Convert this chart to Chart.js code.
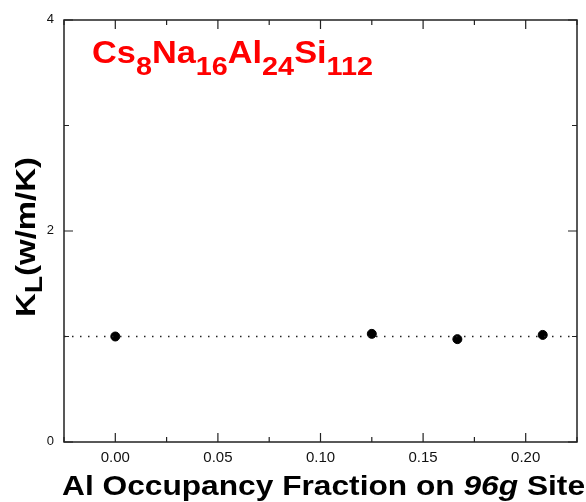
<!DOCTYPE html>
<html>
<head>
<meta charset="utf-8">
<script src="https://cdn.jsdelivr.net/npm/chart.js@4"></script>
<style>
  html, body { margin: 0; padding: 0; background: #fff; }
  #wrap { width: 586px; height: 502px; }
</style>
</head>
<body>
<div id="wrap"><canvas id="chart" width="586" height="502"></canvas></div>
<script>
// data
const occupancy = [0.0, 0.125, 0.1667, 0.2083];
const kappaL = [1.0, 1.025, 0.975, 1.015];
const refLevel = 1.0;
const xTicks = [0.0, 0.05, 0.1, 0.15, 0.2];
const xMinor = [-0.025, 0.025, 0.075, 0.125, 0.175, 0.225];
const yTicks = [0, 2, 4];
const yMinor = [1, 3];

const FONT = "'Liberation Sans', Arial, sans-serif";

// draw runs of text [font, text, dy], squeezed/stretched to a given width
function drawRuns(ctx, runs, x, y, width) {
  let total = 0;
  runs.forEach(([f, t]) => { ctx.font = f; total += ctx.measureText(t).width; });
  const sx = width / total;
  ctx.save();
  ctx.translate(x, y);
  ctx.scale(sx, 1);
  let cx = 0;
  runs.forEach(([f, t, dy]) => {
    ctx.font = f;
    ctx.fillText(t, cx, dy || 0);
    cx += ctx.measureText(t).width;
  });
  ctx.restore();
}

// frame, inward ticks and text labels drawn on top of the chart
const decorPlugin = {
  id: "decor",
  afterDraw(chart) {
    const { ctx, chartArea: a, scales } = chart;
    const xs = scales.x, ys = scales.y;
    ctx.save();
    ctx.strokeStyle = "#222";
    ctx.lineWidth = 1.5;
    ctx.strokeRect(a.left, a.top, a.right - a.left, a.bottom - a.top);

    ctx.lineWidth = 1.2;
    ctx.beginPath();
    const tickX = (v, len) => {
      const px = xs.getPixelForValue(v);
      ctx.moveTo(px, a.bottom); ctx.lineTo(px, a.bottom - len);
      ctx.moveTo(px, a.top); ctx.lineTo(px, a.top + len);
    };
    const tickY = (v, len) => {
      const py = ys.getPixelForValue(v);
      ctx.moveTo(a.left, py); ctx.lineTo(a.left + len, py);
      ctx.moveTo(a.right, py); ctx.lineTo(a.right - len, py);
    };
    xTicks.forEach((v) => tickX(v, 9));
    xMinor.forEach((v) => tickX(v, 5));
    yTicks.forEach((v) => tickY(v, 9));
    yMinor.forEach((v) => tickY(v, 5));
    ctx.stroke();

    // tick labels
    ctx.fillStyle = "#111";
    ctx.font = "15px " + FONT;
    ctx.textAlign = "center";
    ctx.textBaseline = "middle";
    xTicks.forEach((v) => ctx.fillText(v.toFixed(2), xs.getPixelForValue(v), a.bottom + 16));
    ctx.font = "13px " + FONT;
    ctx.textAlign = "right";
    yTicks.forEach((v) => ctx.fillText(String(v), a.left - 10, ys.getPixelForValue(v) - 1));

    ctx.textBaseline = "alphabetic";
    ctx.textAlign = "left";

    // x axis title
    ctx.fillStyle = "#000";
    drawRuns(ctx, [
      ["bold 28px " + FONT, "Al Occupancy Fraction on "],
      ["italic bold 28px " + FONT, "96g"],
      ["bold 28px " + FONT, " Site"],
    ], 62, 495, 523);

    // y axis title, rotated
    ctx.save();
    ctx.translate(35, 317);
    ctx.rotate(-Math.PI / 2);
    drawRuns(ctx, [
      ["bold 28px " + FONT, "K", 0],
      ["bold 24px " + FONT, "L", 7],
      ["bold 28px " + FONT, "(w/m/K)", 0],
    ], 0, 0, 160);
    ctx.restore();

    // red formula label
    ctx.fillStyle = "#ff0000";
    drawRuns(ctx, [
      ["bold 31px " + FONT, "Cs", 0],
      ["bold 26px " + FONT, "8", 12],
      ["bold 31px " + FONT, "Na", 0],
      ["bold 26px " + FONT, "16", 12],
      ["bold 31px " + FONT, "Al", 0],
      ["bold 26px " + FONT, "24", 12],
      ["bold 31px " + FONT, "Si", 0],
      ["bold 26px " + FONT, "112", 12],
    ], 92, 63, 281);
    ctx.restore();
  },
};

new Chart(document.getElementById("chart"), {
  type: "scatter",
  data: {
    datasets: [
      {
        type: "line",
        data: [{ x: -0.025, y: refLevel }, { x: 0.225, y: refLevel }],
        borderColor: "#222",
        borderWidth: 1.5,
        borderDash: [1.5, 6.5],
        pointRadius: 0,
        fill: false,
      },
      {
        data: occupancy.map((v, i) => ({ x: v, y: kappaL[i] })),
        backgroundColor: "#000",
        borderColor: "#000",
        pointRadius: 4.5,
        pointHoverRadius: 4.5,
      },
    ],
  },
  plugins: [decorPlugin],
  options: {
    responsive: false,
    animation: false,
    events: [],
    layout: { padding: { top: 20, right: 9, left: 0, bottom: 0 } },
    plugins: { legend: { display: false }, tooltip: { enabled: false } },
    scales: {
      x: {
        type: "linear",
        min: -0.025,
        max: 0.225,
        grid: { display: false },
        border: { display: false },
        ticks: { display: false },
        afterFit(s) { s.height = 60; },
      },
      y: {
        min: 0,
        max: 4,
        grid: { display: false },
        border: { display: false },
        ticks: { display: false },
        afterFit(s) { s.width = 64; },
      },
    },
  },
});
</script>
</body>
</html>
